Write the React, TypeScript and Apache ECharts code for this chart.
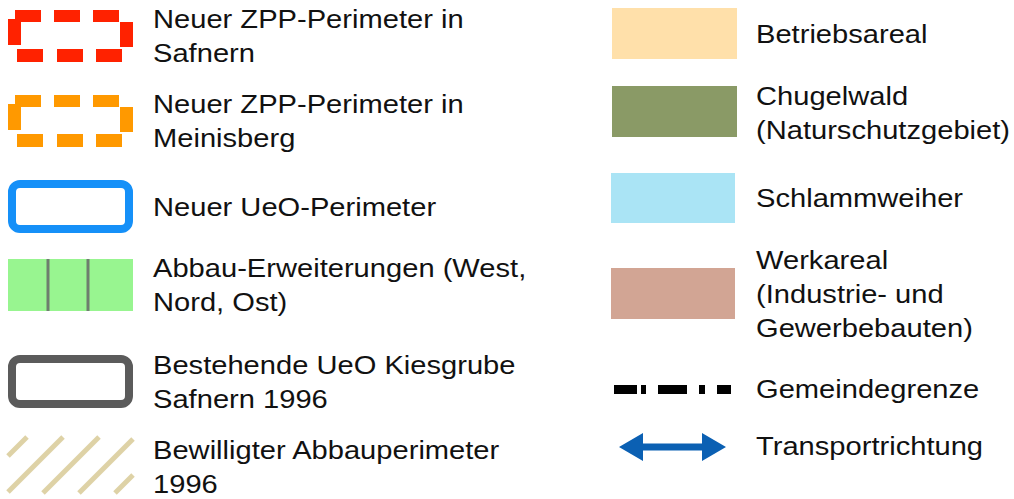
import React, { useEffect, useRef } from "react";
import * as echarts from "echarts";

// Legend labels (content)
const leftLabels: string[][] = [
  ["Neuer ZPP-Perimeter in", "Safnern"],
  ["Neuer ZPP-Perimeter in", "Meinisberg"],
  ["Neuer UeO-Perimeter"],
  ["Abbau-Erweiterungen (West,", "Nord, Ost)"],
  ["Bestehende UeO Kiesgrube", "Safnern 1996"],
  ["Bewilligter Abbauperimeter", "1996"],
];
const rightLabels: string[][] = [
  ["Betriebsareal"],
  ["Chugelwald", "(Naturschutzgebiet)"],
  ["Schlammweiher"],
  ["Werkareal", "(Industrie- und", "Gewerbebauten)"],
  ["Gemeindegrenze"],
  ["Transportrichtung"],
];

// Layout (centre y of first text line of each entry)
const LEFT_TEXT_X = 153;
const RIGHT_TEXT_X = 756;
const leftFirstY = [19, 104, 207, 268, 365, 450];
const rightFirstY = [34, 96, 198, 260, 389, 446];
const LINE_H = 34;
const FONT = "'Liberation Sans', Arial, Helvetica, sans-serif";
const FONT_SIZE = 26;
const SCALE_X = 1.12;
const TEXT_COLOR = "#111111";

function dashedBox(dy: number, color: string) {
  const parts = [
    [15, 10, 26, 12], [54, 10, 26, 12], [93, 10, 26, 12],
    [8, 19, 13, 26],
    [17, 49, 26, 13], [57, 49, 26, 13], [96, 49, 26, 13],
    [120, 22, 13, 25],
  ];
  return parts.map((p) => ({
    type: "rect",
    shape: { x: p[0], y: p[1] + dy, width: p[2], height: p[3] },
    style: { fill: color },
  }));
}

function hatch(x0: number, y0: number, x1: number, y1: number, cs: number[], color: string) {
  const out: any[] = [];
  cs.forEach((c) => {
    // line x + y = c, clip to rect
    const pts: number[][] = [];
    const cand = [
      [x0, c - x0], [x1, c - x1], [c - y0, y0], [c - y1, y1],
    ];
    cand.forEach(([x, y]) => {
      if (x >= x0 - 0.01 && x <= x1 + 0.01 && y >= y0 - 0.01 && y <= y1 + 0.01) {
        if (!pts.some((q) => Math.abs(q[0] - x) < 0.1 && Math.abs(q[1] - y) < 0.1)) pts.push([x, y]);
      }
    });
    if (pts.length >= 2) {
      out.push({
        type: "line",
        shape: { x1: pts[0][0], y1: pts[0][1], x2: pts[1][0], y2: pts[1][1] },
        style: { stroke: color, lineWidth: 5 },
      });
    }
  });
  return out;
}

function textEls(labels: string[][], firstY: number[], x: number) {
  const els: any[] = [];
  labels.forEach((lines, i) => {
    lines.forEach((t, j) => {
      els.push({
        type: "text",
        x,
        y: firstY[i] + j * LINE_H,
        scaleX: SCALE_X,
        style: {
          text: t,
          fontSize: FONT_SIZE,
          fontFamily: FONT,
          fill: TEXT_COLOR,
          align: "left",
          verticalAlign: "middle",
        },
      });
    });
  });
  return els;
}

export default function App() {
  const ref = useRef<HTMLDivElement>(null);
  useEffect(() => {
    document.body.style.margin = "0";
    if (!ref.current) return;
    const chart = echarts.init(ref.current, undefined, { renderer: "svg" });

    const symbols: any[] = [
      ...dashedBox(0, "#ff2200"),
      ...dashedBox(85, "#ff9900"),
      {
        type: "rect",
        shape: { x: 12, y: 184, width: 117, height: 45, r: 8 },
        style: { fill: "#ffffff", stroke: "#1590f8", lineWidth: 8 },
      },
      {
        type: "rect",
        shape: { x: 8, y: 259, width: 125, height: 52 },
        style: { fill: "#98f590" },
      },
      { type: "line", shape: { x1: 48, y1: 259, x2: 48, y2: 311 }, style: { stroke: "#6e7e6e", lineWidth: 3 } },
      { type: "line", shape: { x1: 88, y1: 259, x2: 88, y2: 311 }, style: { stroke: "#6e7e6e", lineWidth: 3 } },
      {
        type: "rect",
        shape: { x: 12, y: 359, width: 117, height: 45, r: 8 },
        style: { fill: "#ffffff", stroke: "#5b5b5b", lineWidth: 8 },
      },
      ...hatch(8, 437, 133, 493, [464, 500, 536, 572, 608], "#ded2a6"),
      // right column
      { type: "rect", shape: { x: 612, y: 8, width: 125, height: 51 }, style: { fill: "#ffe0aa" } },
      { type: "rect", shape: { x: 612, y: 86, width: 125, height: 51 }, style: { fill: "#8a9a66" } },
      { type: "rect", shape: { x: 611, y: 173, width: 124, height: 50 }, style: { fill: "#aae4f5" } },
      { type: "rect", shape: { x: 611, y: 268, width: 124, height: 51 }, style: { fill: "#d2a594" } },
      ...[[614, 23], [641, 5], [658, 29], [699, 6], [717, 14]].map((d) => ({
        type: "rect",
        shape: { x: d[0], y: 385, width: d[1], height: 9 },
        style: { fill: "#000000" },
      })),
      {
        type: "polygon",
        shape: {
          points: [
            [619, 447], [643, 433], [643, 443.5], [702, 443.5], [702, 433],
            [726, 447], [702, 461], [702, 450.5], [643, 450.5], [643, 461],
          ],
        },
        style: { fill: "#0b60b3" },
      },
    ];

    chart.setOption({
      animation: false,
      backgroundColor: "#ffffff",
      graphic: {
        elements: [
          ...symbols,
          ...textEls(leftLabels, leftFirstY, LEFT_TEXT_X),
          ...textEls(rightLabels, rightFirstY, RIGHT_TEXT_X),
        ],
      },
    });
    return () => chart.dispose();
  }, []);
  return <div ref={ref} style={{ width: 1014, height: 499 }} />;
}
